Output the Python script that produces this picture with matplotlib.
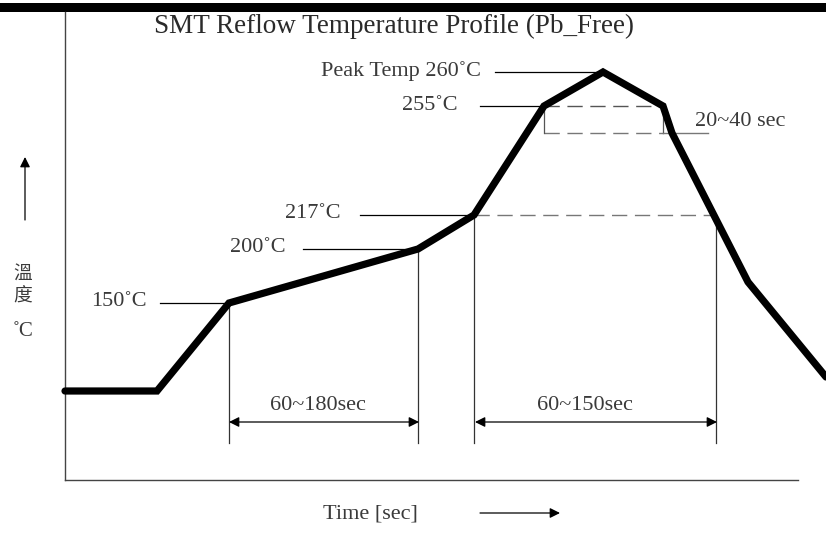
import matplotlib
matplotlib.use('Agg')
import matplotlib.pyplot as plt

plt.rcParams['font.family'] = ['Liberation Serif', 'DejaVu Serif']

# profile vertices (time position, drawing height)
profile_t = [65, 157, 229, 418, 474, 544, 603, 663, 672, 748, 826]
profile_y = [391, 391, 303, 249, 215, 106, 72, 106, 133, 282, 377]

# temperature marks: label, text x, line start, line end, height
temp_labels = ['Peak Temp 260˚C', '255˚C', '217˚C', '200˚C', '150˚C']
temp_text_x = [481, 458, 341, 286, 147]
temp_line_x0 = [495, 480, 360, 303, 160]
temp_line_x1 = [603, 544, 474, 418, 229]
temp_y = [72, 106, 215, 249, 303]

# time windows
span_labels = ['60~180sec', '60~150sec']
span_x0 = [229, 475]
span_x1 = [419, 717]
span_text_x = [318, 585]

# vertical guides: x, top
guide_x = [229, 418, 474, 716]
guide_top = [303, 249, 215, 215]

fig = plt.figure(figsize=(8.26, 5.37), dpi=100)
ax = fig.add_axes([0, 0, 1, 1])
ax.set_xlim(0, 826)
ax.set_ylim(537, 0)
ax.axis('off')

# top bar and axes
ax.fill_between([0, 826], 3, 12, color='black', lw=0)
ax.plot([65, 65], [12, 480], color='#444444', lw=1)
ax.plot([65, 798], [480, 480], color='#444444', lw=1)

ax.text(394, 26, 'SMT Reflow Temperature Profile (Pb_Free)', ha='center', va='center',
        fontsize=19.5, color='#2a2a2a')

# temperature labels
for lab, tx, x0, x1, y in zip(temp_labels, temp_text_x, temp_line_x0, temp_line_x1, temp_y):
    ax.text(tx, y - 1, lab, ha='right', va='center', fontsize=16, color='#3a3a3a')
    ax.plot([x0, x1], [y, y], color='black', lw=0.9)

# dashed levels
dash = (11, 5.5)
ax.plot([474, 716], [215, 215], color='#777777', lw=1, dashes=dash)
ax.plot([544, 663], [106, 106], color='#555555', lw=1, dashes=dash)
ax.plot([544, 663], [133, 133], color='#777777', lw=1, dashes=dash)
ax.plot([544, 544], [106, 133], color='#555555', lw=0.9)
ax.plot([663, 663], [106, 133], color='#555555', lw=0.9)
ax.plot([663, 708], [133, 133], color='#777777', lw=1)
ax.text(695, 122, '20~40 sec', ha='left', va='center', fontsize=16, color='#3a3a3a')

# time spans
for x, top in zip(guide_x, guide_top):
    ax.plot([x, x], [top, 443], color='#333333', lw=0.9)
for lab, x0, x1, tx in zip(span_labels, span_x0, span_x1, span_text_x):
    ax.annotate('', xy=(x1, 422), xytext=(x0, 422),
                arrowprops=dict(arrowstyle='<|-|>', color='black', lw=0.9,
                                mutation_scale=15, shrinkA=0, shrinkB=0))
    ax.text(tx, 405, lab, ha='center', va='center', fontsize=16, color='#3a3a3a')

# profile
ax.plot(profile_t, profile_y, color='black', lw=5.2, solid_joinstyle='miter',
        solid_capstyle='round')

# axis captions
ax.text(370, 514, 'Time [sec]', ha='center', va='center', fontsize=16, color='#3a3a3a')
ax.annotate('', xy=(560, 513), xytext=(480, 513),
            arrowprops=dict(arrowstyle='-|>', color='black', lw=0.9,
                            mutation_scale=15, shrinkA=0, shrinkB=0))
ax.annotate('', xy=(25, 157), xytext=(25, 220),
            arrowprops=dict(arrowstyle='-|>', color='black', lw=0.9,
                            mutation_scale=15, shrinkA=0, shrinkB=0))
for ch, y in zip(['溫', '度'], [274, 296]):
    ax.text(23, y, ch, ha='center', va='center', fontsize=13.5, color='#3a3a3a',
            family=['Noto Sans CJK TC', 'DejaVu Sans'])
ax.text(23, 331, '˚C', ha='center', va='center', fontsize=15, color='#3a3a3a')

fig.savefig('out.png', dpi=100)
